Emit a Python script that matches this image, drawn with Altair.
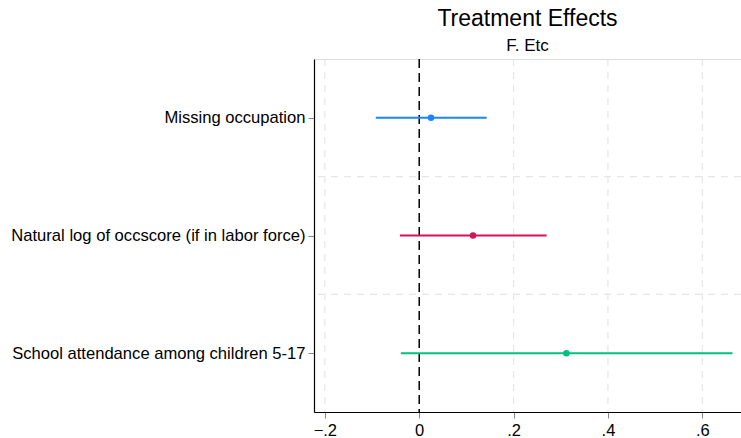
import json
import altair as alt
import pandas as pd

# Outcomes, point estimates and confidence bounds
outcomes = [
    "Missing occupation",
    "Natural log of occscore (if in labor force)",
    "School attendance among children 5-17",
]
estimates = [0.025, 0.114, 0.312]
ci_low = [-0.092, -0.041, -0.039]
ci_high = [0.143, 0.270, 0.664]
colors = ["#1a85ff", "#d41159", "#00bf7f"]

x_ticks = [-0.2, 0, 0.2, 0.4, 0.6]
x_grid = [-0.2, 0.2, 0.4, 0.6]
y_grid = [1.5, 2.5]

df = pd.DataFrame({
    "outcome": outcomes,
    "pos": list(range(1, len(outcomes) + 1)),
    "est": estimates,
    "lo": ci_low,
    "hi": ci_high,
    "color": colors,
})

FONT = "Liberation Sans"
X_DOMAIN = [-0.223, 0.682]
Y_DOMAIN = [0.5, len(outcomes) + 0.5]

xscale = alt.Scale(domain=X_DOMAIN, nice=False, zero=False)
yscale = alt.Scale(domain=Y_DOMAIN, reverse=True, nice=False, zero=False)

label_lookup = json.dumps([""] + outcomes)

x_axis = alt.Axis(
    values=x_ticks,
    labelExpr="datum.value == 0 ? '0' : replace(format(datum.value, '.1f'), '0.', '.')",
    grid=False,
    domainColor="black",
    domainWidth=1.2,
    tickColor="#888888",
    tickSize=6,
    labelFont=FONT,
    labelFontSize=16.5,
    labelColor="black",
    labelPadding=4,
    title=None,
)
y_axis = alt.Axis(
    values=list(range(1, len(outcomes) + 1)),
    labelExpr=f"{label_lookup}[datum.value]",
    grid=False,
    domainColor="black",
    domainWidth=1.2,
    tickColor="#888888",
    tickSize=6,
    labelFont=FONT,
    labelFontSize=16.6,
    labelColor="black",
    labelPadding=3,
    labelLimit=400,
    title=None,
)

base = alt.Chart(df)

# Light dashed grid lines
vgrid = alt.Chart(pd.DataFrame({"g": x_grid})).mark_rule(
    color="#e6e6e6", strokeWidth=1.2, strokeDash=[7, 6]
).encode(x=alt.X("g:Q", scale=xscale, axis=x_axis))

hgrid = alt.Chart(pd.DataFrame({"g": y_grid})).mark_rule(
    color="#e6e6e6", strokeWidth=1.2, strokeDash=[7, 6]
).encode(y=alt.Y("g:Q", scale=yscale, axis=y_axis))

# Zero reference line
zero = alt.Chart(pd.DataFrame({"z": [0]})).mark_rule(
    color="black", strokeWidth=1.5, strokeDash=[9, 5]
).encode(x=alt.X("z:Q", scale=xscale))

bars = base.mark_rule(strokeWidth=2).encode(
    x=alt.X("lo:Q", scale=xscale),
    x2="hi:Q",
    y=alt.Y("pos:Q", scale=yscale),
    color=alt.Color("color:N", scale=None),
)

points = base.mark_circle(size=42, opacity=1).encode(
    x=alt.X("est:Q", scale=xscale),
    y=alt.Y("pos:Q", scale=yscale),
    color=alt.Color("color:N", scale=None),
)

chart = (
    alt.layer(vgrid, hgrid, zero, bars, points)
    .properties(
        width=427,
        height=353,
        autosize=alt.AutoSizeParams(type="none"),
        padding={"left": 314, "top": 59, "right": 0, "bottom": 26},
        title=alt.TitleParams(
            text="Treatment Effects",
            subtitle="F. Etc",
            font=FONT,
            fontSize=23,
            fontWeight="normal",
            color="black",
            subtitleFont=FONT,
            subtitleFontSize=17,
            subtitleColor="black",
            subtitlePadding=7,
            anchor="middle",
            offset=4,
        ),
    )
    .configure_view(stroke=None)
    .configure(background="white")
)

chart.save("out.html", embed_options={"renderer": "svg", "actions": False})
